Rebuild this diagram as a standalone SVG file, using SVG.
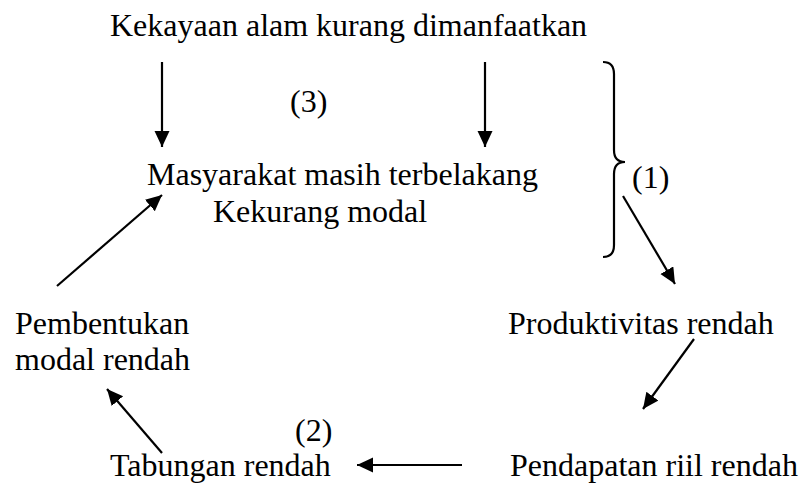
<svg xmlns="http://www.w3.org/2000/svg" width="800" height="484" viewBox="0 0 800 484">
<style>
text{font-family:"Liberation Serif","Times New Roman",serif;font-size:32px;fill:#000}
.c{stroke:#000;stroke-width:2.2;fill:none}
</style>
<defs>
<marker id="ah" markerUnits="userSpaceOnUse" markerWidth="17" markerHeight="16" refX="16" refY="7.5" orient="auto">
<path d="M0,0 L16,7.5 L0,15 z" fill="#000"/>
</marker>
</defs>
<rect width="800" height="484" fill="#fff"/>
<g id="n-kekayaan"><text x="110" y="36">Kekayaan alam kurang dimanfaatkan</text></g>
<g id="lbl-3"><text x="290" y="112">(3)</text></g>
<g id="n-masyarakat"><text x="147" y="185">Masyarakat masih terbelakang</text><text x="213" y="222">Kekurang modal</text></g>
<g id="brace-1"><path class="c" d="M603,62 Q614,62 614,74 L614,150 Q614,162 625,162 Q614,162 614,174 L614,245 Q614,257 603,257"/><text x="632" y="188">(1)</text></g>
<g id="n-produktivitas"><text x="508" y="334">Produktivitas rendah</text></g>
<g id="n-pembentukan"><text x="15" y="334">Pembentukan</text><text x="15" y="370">modal rendah</text></g>
<g id="lbl-2"><text x="295" y="441">(2)</text></g>
<g id="n-tabungan"><text x="110" y="476">Tabungan rendah</text></g>
<g id="n-pendapatan"><text x="510" y="476">Pendapatan riil rendah</text></g>
<g id="connectors" class="c">
<line x1="162" y1="62" x2="162" y2="147" marker-end="url(#ah)"/>
<line x1="485" y1="62" x2="485" y2="147" marker-end="url(#ah)"/>
<line x1="623" y1="196" x2="675" y2="284" marker-end="url(#ah)"/>
<line x1="694" y1="339" x2="643" y2="409" marker-end="url(#ah)"/>
<line x1="462" y1="465" x2="357" y2="465" marker-end="url(#ah)"/>
<line x1="162" y1="453" x2="107" y2="389" marker-end="url(#ah)"/>
<line x1="57" y1="286" x2="162" y2="195" marker-end="url(#ah)"/>
</g>
</svg>
